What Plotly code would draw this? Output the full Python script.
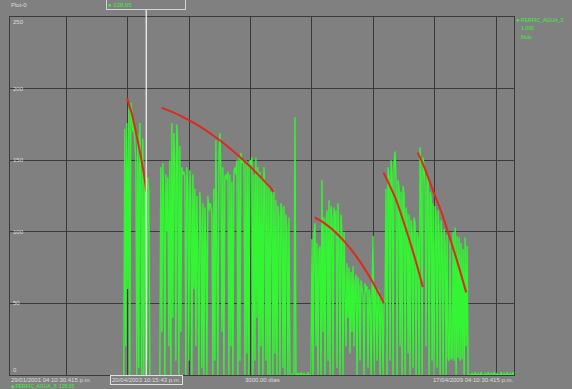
import pandas as pd
import plotly.graph_objects as go

# ---------------- data ----------------
plot_title = "Plot-0"
series_name = "PERFIC_AGUA_3"
legend_lines = ["1.000", "Nulo"]
start_label = "29/01/2001 04:10:30.415 p.m."
end_label = "17/04/2009 04:10:30.415 p.m."
span_label = "3000.00 días"
cursor_label = "20/04/2003 10:15:43 p.m."
cursor_value_label = "● 128.05"
footer_label = "■ PERFIC_AGUA_3: 128.05"

x_start = "2001-01-29 16:10:30.415"
x_end = "2009-04-17 16:10:30.415"
cursor_time = "2003-04-20 22:15:43"
year_ticks = ["2002-01-01", "2003-01-01", "2004-01-01", "2005-01-01",
              "2006-01-01", "2007-01-01", "2008-01-01", "2009-01-01"]
y_ticks = [0, 50, 100, 150, 200, 250]

series_first_date = "2002-12-08"
sample_step = "143h"

block_a = [0, 172, 20, 176, 60, 186, 0, 190, 185, 170, 178, 165, 150, 0, 168, 5,
           176, 140, 0, 165, 0, 140, 132, 10, 138, 128, 0]
gap_ab = [None] * 9
block_b = [0, 145, 30, 148, 120, 0, 140, 100, 138, 20,
           150, 0, 176, 40, 169, 150, 10, 175, 155, 0,
           160, 30, 145, 140, 142, 138, 0, 145, 130, 10,
           143, 120, 0, 140, 60, 130, 20, 125, 80, 0,
           128, 110, 5, 120, 0, 117, 90, 0, 125, 115,
           120, 118, 112, 0, 130, 10, 164, 60, 0, 150,
           169, 140, 30, 145, 0, 138, 140, 136, 142, 0,
           140, 20, 135, 0, 142, 145, 140, 150, 0, 152,
           10, 155, 148, 150, 146, 0, 150, 15, 148, 0,
           150, 147, 152, 0, 140, 10, 152, 40, 145, 0,
           142, 20, 138, 0, 145, 130, 10, 135, 0, 132,
           0, 128, 125, 0, 130, 15, 122, 0, 118, 110,
           0, 120, 115, 5, 118, 0, 112, 100, 0, 110, 0, 0]
gap_bc = [0, 0, 2, 180, 0, 0, 1, 0, 0, 2, 0, 0, 1, 0, 0, 0, 2, 0, 0, 0]
block_c = [95, 0, 100, 106, 20, 92, 0, 87, 90, 0,
           136, 30, 110, 0, 105, 115, 10, 122, 0, 118,
           110, 0, 117, 100, 115, 5, 120, 90, 0, 112,
           95, 0, 100, 70, 20, 78, 40, 75, 15, 72,
           30, 76, 20, 65, 70, 0, 68, 62, 10, 66,
           60, 55, 0, 64, 58, 62, 5, 60, 55, 0,
           58, 97, 0, 62, 55, 10, 60, 58, 0, 55, 50, 0, 52]
block_d = [50, 130, 0, 145, 138, 10, 150, 140, 0, 148,
           156, 135, 0, 136, 130, 20, 128, 0, 132, 125,
           0, 117, 110, 15, 112, 0, 108, 100, 5, 110,
           106, 0, 100, 95, 0]
block_e = [159, 140, 0, 152, 145, 130, 20, 140, 134, 0,
           128, 124, 10, 120, 0, 118, 110, 5, 115, 100,
           0, 108, 95, 0, 102, 90, 0, 98, 12, 10,
           95, 11, 12, 100, 10, 103, 0, 97, 12, 96,
           10, 92, 11, 88, 0, 96, 20, 90, 0, 0, 0]
tail = [0, 1, 0, 0, 2, 0, 0, 1, 0, 0, 2, 0, 0, 0, 1, 0, 0, 2, 0, 0, 1, 0,
        0, 2, 0, 0, 1, 0, 0, 0, 2, 0, 0, 1, 0, 0, 2, 0, 0, 1, 0, 0, 2, 0]

trend1_dates = ["2002-12-28", "2003-01-19", "2003-02-11", "2003-03-04",
                "2003-03-23", "2003-04-09", "2003-04-21"]
trend1_vals = [193.2, 185.0, 173.4, 161.8, 150.3, 138.5, 128.1]
trend2_dates = ["2003-07-20", "2003-11-06", "2004-03-04", "2004-07-01",
                "2004-11-16", "2005-02-24", "2005-05-20"]
trend2_vals = [186.7, 181.3, 173.6, 163.9, 150.3, 138.9, 128.1]
trend3_dates = ["2006-01-17", "2006-03-17", "2006-05-05", "2006-07-14",
                "2006-09-22", "2006-12-10", "2007-03-05"]
trend3_vals = [110.0, 105.9, 101.4, 93.1, 82.8, 68.6, 50.3]
trend4_dates = ["2007-03-03", "2007-04-08", "2007-05-17", "2007-06-24",
                "2007-08-04", "2007-09-15", "2007-10-23"]
trend4_vals = [141.4, 132.6, 122.3, 109.3, 94.4, 77.8, 61.5]
trend5_dates = ["2007-09-23", "2007-11-04", "2007-12-21", "2008-02-07",
                "2008-03-29", "2008-05-18", "2008-07-07"]
trend5_vals = [155.3, 144.2, 129.3, 114.9, 96.8, 78.1, 57.7]

# ---------------- build ----------------
values = block_a + gap_ab + block_b + gap_bc + block_c + block_d + block_e + tail
dates = pd.date_range(series_first_date, periods=len(values), freq=sample_step)

W, H = 572, 389
L, R, T, B = 10, 514, 17, 375  # plot area in pixels
BG = "#808080"
GRID = "#3a3a3a"
TXT = "#dedede"
GREEN = "#33f533"
RED = "#dc2b1c"
FONT = "Liberation Sans, Arial, sans-serif"


def px(xp):
    return (xp - L) / (R - L)


def py(yp):
    return (B - yp) / (B - T)


fig = go.Figure()
fig.add_trace(go.Scatter(x=dates, y=values, mode="lines",
                         line=dict(color=GREEN, width=1.4),
                         connectgaps=False, hoverinfo="skip", showlegend=False))
for d, v in [(trend1_dates, trend1_vals), (trend2_dates, trend2_vals),
             (trend3_dates, trend3_vals), (trend4_dates, trend4_vals),
             (trend5_dates, trend5_vals)]:
    fig.add_trace(go.Scatter(x=d, y=v, mode="lines",
                             line=dict(color=RED, width=2, shape="spline", smoothing=1),
                             hoverinfo="skip", showlegend=False))

# cursor
fig.add_shape(type="line", xref="x", yref="paper", x0=cursor_time, x1=cursor_time,
              y0=0, y1=py(10), line=dict(color="rgba(236,236,236,0.9)", width=1.5))

ann = []
# y tick labels inside the plot
for t in y_ticks:
    if t == y_ticks[-1]:
        ya = "top"
    elif t == y_ticks[0]:
        ya = "bottom"
    else:
        ya = "middle"
    ann.append(dict(x=px(11), y=t, xref="paper", yref="y", text=str(t),
                    xanchor="left", yanchor=ya, showarrow=False,
                    font=dict(size=6, color=TXT, family=FONT)))

ann += [
    dict(x=px(9), y=py(5.5), xref="paper", yref="paper", text=plot_title, xanchor="left",
         yanchor="middle", showarrow=False, font=dict(size=6, color=TXT, family=FONT)),
    dict(x=cursor_time, y=py(4.5), xref="x", yref="paper", text=cursor_value_label,
         xanchor="center", yanchor="middle", showarrow=False, width=76, height=7,
         align="left", bordercolor="#d4d4d4", borderwidth=1, borderpad=1,
         font=dict(size=6, color=GREEN, family=FONT)),
    dict(x=px(9), y=py(380), xref="paper", yref="paper", text=start_label, xanchor="left",
         yanchor="middle", showarrow=False, font=dict(size=6, color=TXT, family=FONT)),
    dict(x=px(515), y=py(380), xref="paper", yref="paper", text=end_label, xanchor="right",
         yanchor="middle", showarrow=False, font=dict(size=6, color=TXT, family=FONT)),
    dict(x=0.5, y=py(380), xref="paper", yref="paper", text=span_label, xanchor="center",
         yanchor="middle", showarrow=False, font=dict(size=6, color=TXT, family=FONT)),
    dict(x=cursor_time, y=py(380), xref="x", yref="paper", text=cursor_label,
         xanchor="center", yanchor="middle", showarrow=False, bordercolor="#e0e0e0",
         borderwidth=1, borderpad=1, font=dict(size=6, color=TXT, family=FONT)),
    dict(x=px(9), y=py(386), xref="paper", yref="paper", text=footer_label, xanchor="left",
         yanchor="middle", showarrow=False, font=dict(size=5, color=GREEN, family=FONT)),
    # legend
    dict(x=px(517.5), y=py(20), xref="paper", yref="paper", text="●", xanchor="center",
         yanchor="middle", showarrow=False, font=dict(size=6, color=GREEN, family=FONT)),
    dict(x=px(519), y=py(20), xref="paper", yref="paper", text=series_name, xanchor="left",
         yanchor="middle", showarrow=False, font=dict(size=5.2, color=GREEN, family=FONT)),
]
for i, line in enumerate(legend_lines):
    ann.append(dict(x=px(519), y=py(28.5 + 8.5 * i), xref="paper", yref="paper", text=line,
                    xanchor="left", yanchor="middle", showarrow=False,
                    font=dict(size=5.2, color=GREEN, family=FONT)))

fig.update_layout(
    width=W, height=H, autosize=False,
    margin=dict(l=L, r=W - R, t=T, b=H - B, pad=0),
    paper_bgcolor=BG, plot_bgcolor=BG,
    showlegend=False,
    annotations=ann,
    xaxis=dict(type="date", range=[x_start, x_end], tickvals=year_ticks,
               showticklabels=False, ticks="", showgrid=True, gridcolor=GRID, gridwidth=1,
               zeroline=False, showline=True, linecolor=GRID, linewidth=1, mirror=True,
               fixedrange=True),
    yaxis=dict(range=[0, 250], tickvals=y_ticks, showticklabels=False, ticks="",
               showgrid=True, gridcolor=GRID, gridwidth=1, zeroline=False,
               showline=True, linecolor=GRID, linewidth=1, mirror=True, fixedrange=True),
)

fig.write_html("out.html", config={"displayModeBar": False},
               post_script="document.body.style.margin='0px';document.body.style.background='#808080';")
